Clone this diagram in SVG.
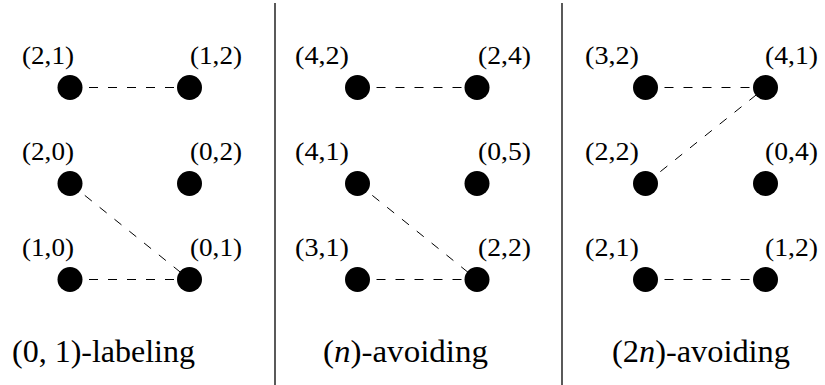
<svg xmlns="http://www.w3.org/2000/svg" width="825" height="385" viewBox="0 0 825 385">
<style>
.n{fill:#000}
.lbl{font-family:'Liberation Serif','Times New Roman',serif;font-size:25px;fill:#000}
.cap{font-family:'Liberation Serif','Times New Roman',serif;font-size:32px;fill:#000}
.e{stroke:#000;stroke-width:1;stroke-dasharray:9 10;fill:none}
.div{stroke:#000;stroke-width:1.3}
</style>
<rect width="825" height="385" fill="#fff"/>
<line class="div" x1="275" y1="3" x2="275" y2="385"/>
<line class="div" x1="562" y1="3" x2="562" y2="385"/>
<g id="connectors">
<line class="e" x1="70" y1="87.5" x2="189.5" y2="87.5"/>
<line class="e" x1="70" y1="183.5" x2="189.5" y2="279.5"/>
<line class="e" x1="70" y1="279.5" x2="189.5" y2="279.5"/>
<line class="e" x1="357.5" y1="87.5" x2="477" y2="87.5"/>
<line class="e" x1="357.5" y1="183.5" x2="477" y2="279.5"/>
<line class="e" x1="357.5" y1="279.5" x2="477" y2="279.5"/>
<line class="e" x1="645.5" y1="87.5" x2="765.5" y2="87.5"/>
<line class="e" x1="645.5" y1="183.5" x2="765.5" y2="87.5"/>
<line class="e" x1="645.5" y1="279.5" x2="765.5" y2="279.5"/>
</g>
<g id="a1"><circle class="n" cx="70" cy="87.5" r="12.5"/><text class="lbl" x="22" y="64" textLength="52" lengthAdjust="spacingAndGlyphs">(2,1)</text></g>
<g id="a2"><circle class="n" cx="189.5" cy="87.5" r="12.5"/><text class="lbl" x="190" y="64" textLength="52" lengthAdjust="spacingAndGlyphs">(1,2)</text></g>
<g id="a3"><circle class="n" cx="70" cy="183.5" r="12.5"/><text class="lbl" x="22" y="160" textLength="52" lengthAdjust="spacingAndGlyphs">(2,0)</text></g>
<g id="a4"><circle class="n" cx="189.5" cy="183.5" r="12.5"/><text class="lbl" x="190" y="160" textLength="52" lengthAdjust="spacingAndGlyphs">(0,2)</text></g>
<g id="a5"><circle class="n" cx="70" cy="279.5" r="12.5"/><text class="lbl" x="22" y="256" textLength="52" lengthAdjust="spacingAndGlyphs">(1,0)</text></g>
<g id="a6"><circle class="n" cx="189.5" cy="279.5" r="12.5"/><text class="lbl" x="190" y="256" textLength="52" lengthAdjust="spacingAndGlyphs">(0,1)</text></g>
<g id="b1"><circle class="n" cx="357.5" cy="87.5" r="12.5"/><text class="lbl" x="295" y="64" textLength="54" lengthAdjust="spacingAndGlyphs">(4,2)</text></g>
<g id="b2"><circle class="n" cx="477" cy="87.5" r="12.5"/><text class="lbl" x="478" y="64" textLength="53" lengthAdjust="spacingAndGlyphs">(2,4)</text></g>
<g id="b3"><circle class="n" cx="357.5" cy="183.5" r="12.5"/><text class="lbl" x="295" y="160" textLength="54" lengthAdjust="spacingAndGlyphs">(4,1)</text></g>
<g id="b4"><circle class="n" cx="477" cy="183.5" r="12.5"/><text class="lbl" x="478" y="160" textLength="53" lengthAdjust="spacingAndGlyphs">(0,5)</text></g>
<g id="b5"><circle class="n" cx="357.5" cy="279.5" r="12.5"/><text class="lbl" x="295" y="256" textLength="54" lengthAdjust="spacingAndGlyphs">(3,1)</text></g>
<g id="b6"><circle class="n" cx="477" cy="279.5" r="12.5"/><text class="lbl" x="478" y="256" textLength="53" lengthAdjust="spacingAndGlyphs">(2,2)</text></g>
<g id="c1"><circle class="n" cx="645.5" cy="87.5" r="12.5"/><text class="lbl" x="585" y="64" textLength="54" lengthAdjust="spacingAndGlyphs">(3,2)</text></g>
<g id="c2"><circle class="n" cx="765.5" cy="87.5" r="12.5"/><text class="lbl" x="765" y="64" textLength="53" lengthAdjust="spacingAndGlyphs">(4,1)</text></g>
<g id="c3"><circle class="n" cx="645.5" cy="183.5" r="12.5"/><text class="lbl" x="585" y="160" textLength="54" lengthAdjust="spacingAndGlyphs">(2,2)</text></g>
<g id="c4"><circle class="n" cx="765.5" cy="183.5" r="12.5"/><text class="lbl" x="765" y="160" textLength="53" lengthAdjust="spacingAndGlyphs">(0,4)</text></g>
<g id="c5"><circle class="n" cx="645.5" cy="279.5" r="12.5"/><text class="lbl" x="585" y="256" textLength="54" lengthAdjust="spacingAndGlyphs">(2,1)</text></g>
<g id="c6"><circle class="n" cx="765.5" cy="279.5" r="12.5"/><text class="lbl" x="765" y="256" textLength="53" lengthAdjust="spacingAndGlyphs">(1,2)</text></g>
<text class="cap" x="12" y="362" textLength="183" lengthAdjust="spacingAndGlyphs">(0, 1)-labeling</text>
<text class="cap" x="323" y="362" textLength="165" lengthAdjust="spacingAndGlyphs">(<tspan font-style="italic">n</tspan>)-avoiding</text>
<text class="cap" x="612" y="362" textLength="178" lengthAdjust="spacingAndGlyphs">(2<tspan font-style="italic">n</tspan>)-avoiding</text>
</svg>
